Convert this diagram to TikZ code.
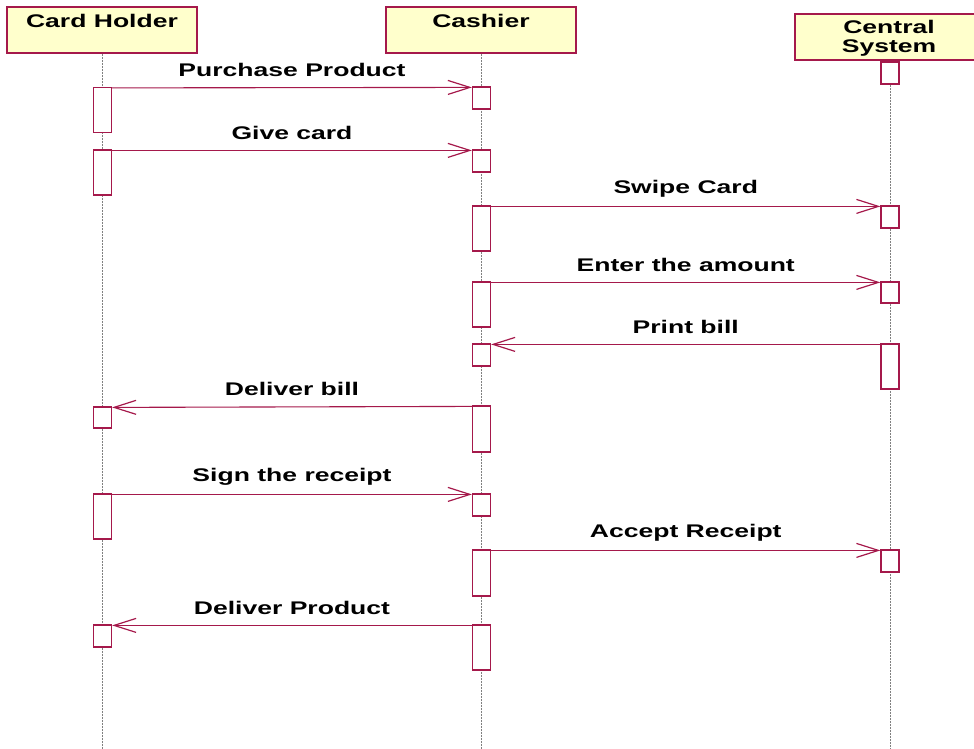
\documentclass[tikz,border=0pt]{standalone}
\usepackage{fontspec}
\newfontfamily\lblfont[FakeStretch=1.45]{Liberation Sans}
\usetikzlibrary{arrows.meta}
\definecolor{crim}{RGB}{165,25,75}
\definecolor{hdrfill}{RGB}{255,255,204}
\definecolor{lifegray}{RGB}{128,128,128}
\tikzset{
  hdr/.style={draw=crim, line width=1.2pt, fill=hdrfill, inner sep=0pt},
  hdrtext/.style={font=\lblfont\bfseries\fontsize{18.3}{19}\selectfont, align=center, inner sep=0pt},
  act/.style={draw=crim, line width=1.2pt, fill=white, minimum width=18pt, inner sep=0pt},
  life/.style={draw=lifegray, line width=0.8pt, dash pattern=on 2pt off 1pt},
  msg/.style={draw=crim, line width=1.1pt, -{Straight Barb[length=22pt,width=14pt,line width=1.2pt]}},
  lbl/.style={font=\lblfont\bfseries\fontsize{18.3}{19}\selectfont, inner sep=0pt, yshift=17.5pt},
}
\begin{document}
\begin{tikzpicture}[x=1pt,y=-1pt]
\useasboundingbox (0,0) rectangle (974,749);
% headers
\node[hdr, minimum width=190pt, minimum height=46pt] (hA) at (102,30) {};
\node[hdr, minimum width=190pt, minimum height=46pt] (hB) at (481,30) {};
\node[hdr, minimum width=180pt, minimum height=46pt] (hC) at (885,37) {};
\node[hdrtext] (tA) at (102,21) {Card Holder};
\node[hdrtext] (tB) at (481,21) {Cashier};
\node[hdrtext] (tC) at (889,38.5) {Central\\System};
% lifeline ends
\coordinate (eA) at (102.5,749);
\coordinate (eB) at (481.5,749);
\coordinate (eC) at (890,749);
\draw[life] (hA.south -| eA) -- (eA);
\draw[life] (hB.south -| eB) -- (eB);
\draw[life] (hC.south -| eC) -- (eC);
% activations Card Holder
\node[act, minimum height=45pt] (a1) at (102.5,110) {};
\node[act, minimum height=45pt] (a2) at (102.5,172.5) {};
\node[act, minimum height=21pt] (a3) at (102.5,417.5) {};
\node[act, minimum height=45pt] (a4) at (102.5,516.5) {};
\node[act, minimum height=22pt] (a5) at (102.5,636) {};
% activations Cashier
\node[act, minimum height=22pt] (b1) at (481.5,98) {};
\node[act, minimum height=22pt] (b2) at (481.5,161) {};
\node[act, minimum height=45pt] (b3) at (481.5,228.5) {};
\node[act, minimum height=45pt] (b4) at (481.5,304.5) {};
\node[act, minimum height=22pt] (b5) at (481.5,355) {};
\node[act, minimum height=46pt] (b6) at (481.5,429) {};
\node[act, minimum height=22pt] (b7) at (481.5,505) {};
\node[act, minimum height=46pt] (b8) at (481.5,573) {};
\node[act, minimum height=45pt] (b9) at (481.5,647.5) {};
% activations Central System
\node[act, minimum height=22pt] (c1) at (890,73) {};
\node[act, minimum height=22pt] (c2) at (890,217) {};
\node[act, minimum height=21pt] (c3) at (890,292.5) {};
\node[act, minimum height=45pt] (c4) at (890,366.5) {};
\node[act, minimum height=22pt] (c5) at (890,561) {};
% messages
\draw[msg] ([yshift=-1pt]a1.north east) -- node[lbl] (m1) {Purchase Product} ([yshift=-1pt]b1.north west);
\draw[msg] ([yshift=-1pt]a2.north east) -- node[lbl] (m2) {Give card} ([yshift=-1pt]b2.north west);
\draw[msg] ([yshift=-1pt]b3.north east) -- node[lbl] (m3) {Swipe Card} ([yshift=-1pt]c2.north west);
\draw[msg] ([yshift=-1pt]b4.north east) -- node[lbl] (m4) {Enter the amount} ([yshift=-1pt]c3.north west);
\draw[msg] ([yshift=-1pt]c4.north west) -- node[lbl] (m5) {Print bill} ([yshift=-1pt]b5.north east);
\draw[msg] ([yshift=-1pt]b6.north west) -- node[lbl] (m6) {Deliver bill} ([yshift=-1pt]a3.north east);
\draw[msg] ([yshift=-1pt]a4.north east) -- node[lbl] (m7) {Sign the receipt} ([yshift=-1pt]b7.north west);
\draw[msg] ([yshift=-1pt]b8.north east) -- node[lbl] (m8) {Accept Receipt} ([yshift=-1pt]c5.north west);
\draw[msg] ([yshift=-1pt]b9.north west) -- node[lbl] (m9) {Deliver Product} ([yshift=-1pt]a5.north east);
\end{tikzpicture}
\end{document}
